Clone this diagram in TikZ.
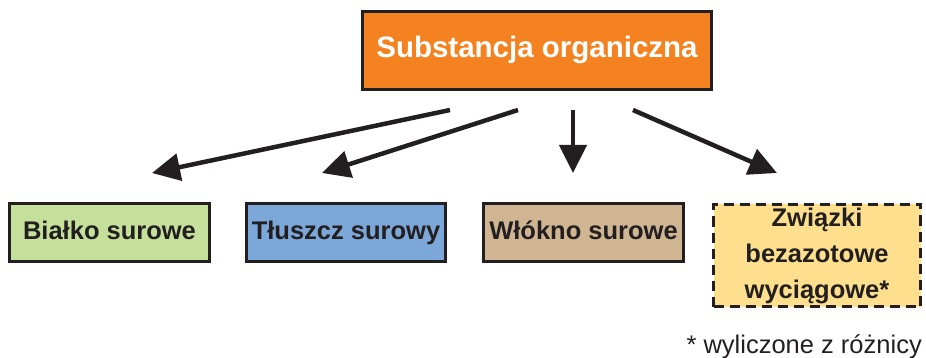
\documentclass[tikz,border=0pt]{standalone}
\usepackage{fontspec}
\setmainfont{Liberation Sans}
\usetikzlibrary{arrows.meta}
\definecolor{bord}{HTML}{231F20}
\definecolor{orng}{HTML}{F58220}
\definecolor{grn}{HTML}{C5E09B}
\definecolor{blu}{HTML}{7BA7D9}
\definecolor{tan}{HTML}{D0B592}
\definecolor{ylw}{HTML}{FDDF8E}
\tikzset{
  box/.style={draw=bord, line width=3.5pt, inner sep=0pt, align=center, font=\bfseries\fontsize{25.5}{30}\selectfont, text=bord},
  one/.style={text height=18pt, text depth=5pt},
  conn/.style={draw=bord, line width=4.5pt, -{Triangle[length=28pt,width=27pt]}}
}
\begin{document}
\begin{tikzpicture}[x=1pt,y=-1pt]
\useasboundingbox (0,0) rectangle (926,358);
\node[box, one, fill=orng, text=white, minimum width=349pt, minimum height=78pt, font=\bfseries\fontsize{29.5}{34}\selectfont, text height=21pt, text depth=6pt] (top) at (537,50.5) {Substancja organiczna};
\node[box, one, fill=grn, minimum width=200pt, minimum height=58pt] (b1) at (109.5,232.5) {Białko surowe};
\node[box, one, fill=blu, minimum width=199pt, minimum height=58pt] (b2) at (346,232.5) {Tłuszcz surowy};
\node[box, one, fill=tan, minimum width=200pt, minimum height=58pt] (b3) at (583.5,232.5) {Włókno surowe};
\node[box, fill=ylw, dash pattern=on 10pt off 6pt, minimum width=207pt, minimum height=102pt, font=\bfseries\fontsize{25.5}{36}\selectfont] (b4) at (817,255.5) {Związki\\bezazotowe\\wyciągowe*};
\node[anchor=base east, inner sep=0pt, text=bord, font=\fontsize{25.5}{30}\selectfont] (fn) at (922,353) {* wyliczone z różnicy};
\coordinate (s1) at (450,110); \coordinate (e1) at (152,173);
\coordinate (s2) at (518,110); \coordinate (e2) at (322,173);
\coordinate (s3) at (573,110); \coordinate (e3) at (573,173);
\coordinate (s4) at (633,110); \coordinate (e4) at (777,173);
\draw[conn] (s1) -- (e1);
\draw[conn] (s2) -- (e2);
\draw[conn] (s3) -- (e3);
\draw[conn] (s4) -- (e4);
\end{tikzpicture}
\end{document}
